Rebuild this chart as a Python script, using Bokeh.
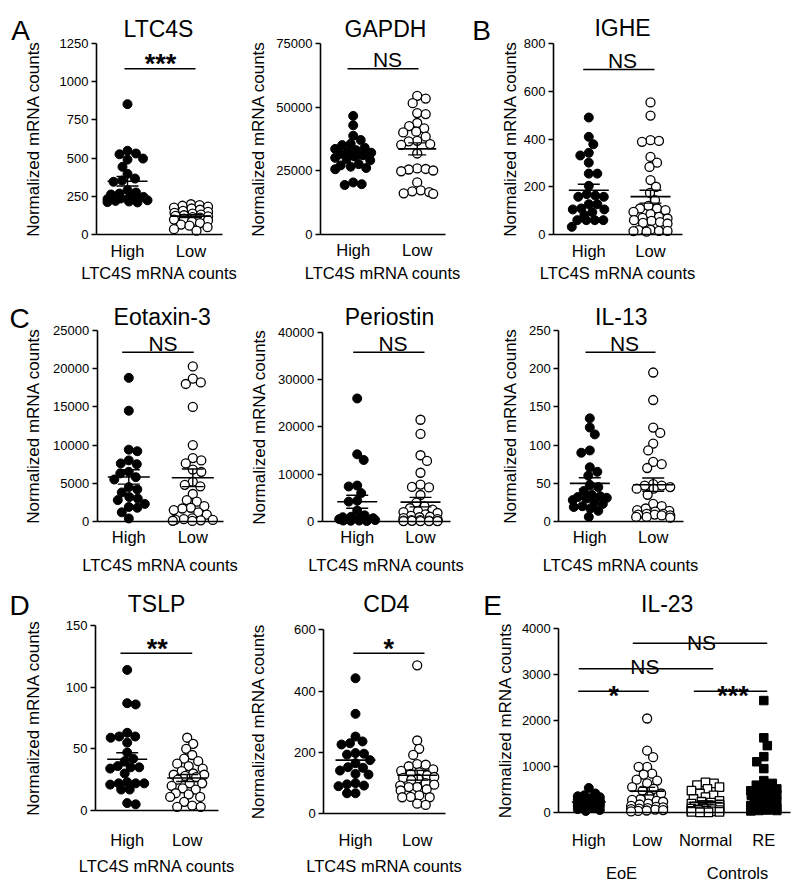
import numpy as np
from bokeh.plotting import figure
from bokeh.layouts import row, column
from bokeh.models import Range1d, FixedTicker, Label, BasicTickFormatter
from bokeh.embed import file_html
from bokeh.resources import INLINE

FONT = "Liberation Sans"

# ---------------- data ----------------
cats_two = ["High", "Low"]
cats_il23 = ["High", "Low", "Normal", "RE"]

ltc4s_high = [853, 548, 530, 525, 497, 490, 443, 397, 366, 353, 345, 290, 275, 268, 262,
              246, 240, 236, 232, 228, 224, 220, 216, 212, 210]
ltc4s_low = [198, 192, 188, 182, 176, 170, 162, 155, 148, 142, 136, 130, 126, 122, 118,
             114, 110, 104, 98, 92, 85, 75, 65, 58, 48, 35, 25]

gapdh_high = [46500, 42800, 38700, 37000, 35500, 35000, 34000, 33500, 33000, 32500, 32000,
              31500, 31000, 30500, 30000, 29500, 29000, 27500, 27000, 26500, 26000, 25500,
              20300, 19600, 19300]
gapdh_low = [54400, 53300, 51500, 47600, 47200, 43700, 42500, 41600, 40300, 40000, 38300,
             36700, 36500, 35400, 35100, 31700, 25800, 25600, 25400, 25000, 24700, 20300,
             17200, 16800, 16500, 16000, 15800]

ighe_high = [490, 409, 378, 342, 331, 301, 255, 255, 204, 169, 163, 158, 158, 127, 127,
             109, 105, 105, 94, 81, 60, 60, 60, 60, 32]
ighe_low = [553, 498, 395, 392, 388, 325, 301, 283, 228, 200, 174, 144, 120, 109, 109, 102,
            95, 85, 74, 70, 67, 60, 57, 52, 49, 46, 20, 18, 15, 15, 14, 12]

eotaxin_high = [18800, 14500, 9400, 9200, 8000, 7600, 7500, 6500, 6300, 5800, 5500, 4500,
                4200, 3800, 3200, 3000, 2800, 2300, 1900, 1800, 1200, 400]
eotaxin_low = [20300, 18700, 18200, 18000, 15000, 10000, 8300, 8000, 7600, 6800, 6500, 5200,
               4800, 4600, 3600, 2800, 2600, 2000, 1800, 1700, 1500, 1200, 900, 400, 300,
               250, 200, 150, 100, 80]

periostin_high = [26000, 14200, 13000, 7600, 7400, 6000, 4400, 4200, 2300, 1300, 1000, 900,
                  700, 600, 500, 400, 300, 300, 200, 200, 150, 100]
periostin_low = [21500, 18500, 14000, 12800, 10300, 7800, 7300, 7200, 5600, 4000, 3200, 2800,
                 2500, 2200, 2000, 1800, 1500, 1200, 1000, 900, 700, 500, 300, 300, 200, 200,
                 150, 150, 100, 100, 100, 100]

il13_high = [135, 123, 114, 93, 90, 71, 65, 60, 48, 45, 40, 35, 33, 32, 31, 30, 28, 25, 23,
             20, 19, 17, 14, 6]
il13_low = [195, 159, 123, 116, 102, 93, 78, 75, 70, 49, 47, 47, 45, 43, 43, 35, 23, 20, 17,
            15, 14, 13, 10, 10, 9, 9, 8, 8, 6, 6, 5]

tslp_high = [114, 87, 86, 63, 60, 60, 59, 55, 47, 42, 40, 36, 35, 35, 34, 30, 23, 22, 22, 22,
             21, 17, 17, 6, 5]
tslp_low = [59, 54, 50, 45, 42, 40, 38, 36, 34, 32, 30, 29, 29, 28, 27, 25, 22, 22, 20, 18,
            17, 14, 13, 11, 11, 7, 4, 3, 3]

cd4_high = [442, 326, 252, 236, 230, 226, 198, 196, 193, 175, 165, 152, 150, 141, 130, 128,
            100, 96, 92, 90, 67, 67]
cd4_low = [484, 239, 212, 192, 162, 160, 155, 145, 140, 135, 130, 125, 120, 117, 115, 110,
           100, 95, 92, 87, 87, 80, 76, 60, 55, 54, 54, 33, 29]

il23_high = [540, 420, 380, 360, 340, 320, 300, 290, 270, 260, 250, 240, 230, 220, 200, 190,
             180, 160, 150, 140, 120, 100, 80, 60, 40]
il23_low = [2050, 1350, 1210, 1000, 1000, 850, 830, 720, 700, 640, 560, 520, 480, 420, 360,
            300, 280, 260, 240, 200, 180, 150, 130, 120, 100, 90, 80, 70, 60, 50, 40, 30]
il23_normal = [660, 640, 600, 560, 520, 480, 420, 380, 340, 300, 260, 240, 220, 200, 180,
               160, 150, 140, 120, 100, 90, 80, 70, 60, 50, 40, 30, 30, 20, 20, 10, 10]
il23_re = [2440, 1630, 1460, 1220, 1110, 960, 700, 640, 600, 560, 520, 480, 450, 440, 400,
           380, 360, 320, 280, 240, 200, 160, 130, 110, 90, 70, 60, 50, 50, 40]

ylabel_text = "Normalized mRNA counts"
xlabel_text = "LTC4S mRNA counts"

# ---------------- page geometry (page pixels) ----------------
ROWS = [(0, 290), (290, 580), (580, 880)]
COLS = [(0, 248), (248, 468), (468, 798)]
DIAM = 8.5       # collision diameter for the swarm layout
MSIZE = 9


def swarm_offsets(vals, k, diam, maxw):
    vals = np.asarray(vals, float)
    order = np.argsort(-vals, kind="stable")
    ys = vals * k
    px, py = [], []
    out = np.zeros(len(vals))
    cand = np.arange(-maxw, maxw + 1e-9, 0.5)
    side = 1.0
    for i in order:
        y = ys[i]
        over = np.zeros(len(cand))
        if px:
            ax = np.array(px)
            ay = np.array(py)
            dyv = np.abs(ay - y)
            near = dyv < diam
            if near.any():
                dist = np.sqrt((cand[:, None] - ax[near][None, :]) ** 2 + dyv[near][None, :] ** 2)
                over = np.clip(diam - dist, 0, None).sum(axis=1)
        score = over * 50 + np.abs(cand) - 0.01 * side * np.sign(cand)
        c = cand[int(np.argmin(score))]
        if c != 0:
            side = -np.sign(c)
        out[i] = c
        px.append(c)
        py.append(y)
    return out


def build(cfg):
    c0, c1 = COLS[cfg["col"]]
    r0, r1 = ROWS[cfg["row"]]
    W, H = c1 - c0, r1 - r0
    ax_px = cfg["axis_x"]
    yz = cfg["y_zero"]
    k = (yz - cfg["y_top"]) / cfg["top"]
    cen = cfg["centers"]
    u = (cen[-1] - cen[0]) / (len(cen) - 1)
    xa0 = 0.5 - (cen[0] - ax_px) / u

    def dx(px):
        return xa0 + (px - ax_px) / u

    def dy(py):
        return (yz - py) / k

    p = figure(width=W, height=H, x_range=Range1d(dx(c0), dx(c1)), y_range=Range1d(dy(r1), dy(r0)),
               output_backend="svg", toolbar_location=None,
               min_border_left=0, min_border_right=0, min_border_top=0, min_border_bottom=0)
    p.title.visible = False
    p.outline_line_color = None
    p.xgrid.visible = False
    p.ygrid.visible = False
    p.background_fill_color = "white"
    p.border_fill_color = "white"

    # points
    for gi, (vals, marker, filled) in enumerate(cfg["series"]):
        offs = swarm_offsets(vals, k, DIAM, cfg["maxw"][gi])
        xs = [gi + 0.5 + o / u for o in offs]
        p.scatter(xs, list(vals), marker=marker, size=MSIZE if marker == "circle" else MSIZE - 0.5,
                  fill_color="black" if filled else "white", line_color="black",
                  line_width=1.0 if filled else 1.3)

    # mean +/- SEM
    mx0, mx1, my, vx, vy0, vy1, cx0, cx1, cy = [], [], [], [], [], [], [], [], []
    hw = cfg["mean_hw"] / u
    cw = cfg["cap_hw"] / u
    for gi, (vals, marker, filled) in enumerate(cfg["series"]):
        v = np.asarray(vals, float)
        m = v.mean()
        s = v.std(ddof=1) / np.sqrt(len(v))
        c = gi + 0.5
        mx0.append(c - hw); mx1.append(c + hw); my.append(m)
        vx.append(c); vy0.append(m - s); vy1.append(m + s)
        cx0 += [c - cw, c - cw]; cx1 += [c + cw, c + cw]; cy += [m - s, m + s]
    p.segment(mx0, my, mx1, my, line_color="black", line_width=1.6)
    p.segment(vx, vy0, vx, vy1, line_color="black", line_width=1.4)
    p.segment(cx0, cy, cx1, cy, line_color="black", line_width=1.4)

    # y axis (fixed inside the full-size frame)
    ya = p.yaxis[0]
    ya.fixed_location = dx(ax_px)
    ya.ticker = FixedTicker(ticks=cfg["ticks"], minor_ticks=[])
    ya.bounds = (0, cfg["top"])
    ya.formatter = BasicTickFormatter(use_scientific=False)
    ya.axis_line_color = "black"
    ya.axis_line_width = 1.6
    ya.major_tick_line_color = "black"
    ya.major_tick_line_width = 1.6
    ya.major_tick_out = 5
    ya.major_tick_in = 0
    ya.minor_tick_line_color = None
    ya.major_label_text_font = FONT
    ya.major_label_text_font_size = "13px"
    ya.major_label_text_color = "black"
    ya.major_label_standoff = 3
    ya.axis_label = ylabel_text
    ya.axis_label_text_font = FONT
    ya.axis_label_text_font_size = "17px"
    ya.axis_label_text_font_style = "normal"
    ya.axis_label_text_color = "black"
    ya.axis_label_standoff = cfg["ylab_standoff"]

    # x axis (category labels) at y = 0
    xa = p.xaxis[0]
    xa.fixed_location = 0
    xa.bounds = (dx(ax_px), dx(cfg["right_x"]))
    ticks = [i + 0.5 for i in range(len(cfg["cats"]))]
    xa.ticker = FixedTicker(ticks=ticks, minor_ticks=[])
    xa.major_label_overrides = {t: c for t, c in zip(ticks, cfg["cats"])}
    xa.axis_line_color = "black"
    xa.axis_line_width = 1.6
    xa.major_tick_line_color = None
    xa.minor_tick_line_color = None
    xa.major_tick_out = 0
    xa.major_tick_in = 0
    xa.major_label_text_font = FONT
    xa.major_label_text_font_size = "16.5px"
    xa.major_label_text_color = "black"
    xa.major_label_standoff = cfg["cat_standoff"]
    if cfg.get("xlabel"):
        xa.axis_label = cfg["xlabel"]
        xa.axis_label_text_font = FONT
        xa.axis_label_text_font_size = "16.5px"
        xa.axis_label_text_font_style = "normal"
        xa.axis_label_text_color = "black"
        xa.axis_label_standoff = cfg["xlab_standoff"]

    def label(text, px, py, size, style="normal"):
        p.add_layout(Label(x=dx(px), y=dy(py), text=text, text_align="center",
                           text_baseline="alphabetic", text_font=FONT,
                           text_font_size=f"{size}px", text_font_style=style,
                           text_color="black"))

    # significance marks
    sx0, sx1, sy = [], [], []
    for (txt, tx, tb, fs, bold, lx0, lx1, ly) in cfg["sig"]:
        label(txt, tx, tb, fs, "bold" if bold else "normal")
        sx0.append(dx(lx0)); sx1.append(dx(lx1)); sy.append(dy(ly))
    p.segment(sx0, sy, sx1, sy, line_color="black", line_width=1.6)

    t, tx, tb = cfg["title"]
    label(t, tx, tb, 23)
    if cfg.get("letter"):
        lt, lx, lb = cfg["letter"]
        label(lt, lx, lb, 28)
    for (txt, tx, tb) in cfg.get("extra", []):
        label(txt, tx, tb, 16.5)
    return p


STAR = 27
NSF = 21
panels = [
    dict(col=0, row=0, axis_x=96, right_x=222, y_zero=234, y_top=43, top=1250,
         ticks=[0, 250, 500, 750, 1000, 1250], cats=cats_two, centers=[127, 190.5],
         series=[(ltc4s_high, "circle", True), (ltc4s_low, "circle", False)],
         title=("LTC4S", 158, 28.3), letter=("A", 20, 30),
         sig=[("***", 160, 63.8, STAR, True, 124, 195, 68.3)],
         ylab_standoff=14, cat_standoff=7, xlabel=xlabel_text, xlab_standoff=1,
         maxw=[20, 17], mean_hw=20, cap_hw=11),
    dict(col=1, row=0, axis_x=320, right_x=445, y_zero=233.5, y_top=43, top=75000,
         ticks=[0, 25000, 50000, 75000], cats=cats_two, centers=[352.7, 416.7],
         series=[(gapdh_high, "circle", True), (gapdh_low, "circle", False)],
         title=("GAPDH", 385, 28.3), letter=None,
         sig=[("NS", 387, 59.3, NSF, False, 347, 418, 68.3)],
         ylab_standoff=5, cat_standoff=7, xlabel=xlabel_text, xlab_standoff=1,
         maxw=[18, 16], mean_hw=19, cap_hw=9),
    dict(col=2, row=0, axis_x=553, right_x=682, y_zero=234, y_top=43, top=800,
         ticks=[0, 200, 400, 600, 800], cats=cats_two, centers=[588.3, 650],
         series=[(ighe_high, "circle", True), (ighe_low, "circle", False)],
         title=("IGHE", 622, 27.5), letter=("B", 481, 30),
         sig=[("NS", 622, 60, NSF, False, 582.7, 654, 69)],
         ylab_standoff=1, cat_standoff=7, xlabel=xlabel_text, xlab_standoff=1,
         maxw=[17, 17], mean_hw=20, cap_hw=11),
    dict(col=0, row=1, axis_x=96.7, right_x=223.3, y_zero=521, y_top=330, top=25000,
         ticks=[0, 5000, 10000, 15000, 20000, 25000], cats=cats_two, centers=[128.3, 192.3],
         series=[(eotaxin_high, "circle", True), (eotaxin_low, "circle", False)],
         title=("Eotaxin-3", 161.7, 316.7), letter=("C", 19, 317.7),
         sig=[("NS", 162.5, 343.3, NSF, False, 121.7, 193.3, 351.7)],
         ylab_standoff=7, cat_standoff=6, xlabel=xlabel_text, xlab_standoff=7,
         maxw=[16, 20], mean_hw=21, cap_hw=11),
    dict(col=1, row=1, axis_x=321.7, right_x=450, y_zero=521, y_top=331.7, top=40000,
         ticks=[0, 10000, 20000, 30000, 40000], cats=cats_two, centers=[356.7, 420],
         series=[(periostin_high, "circle", True), (periostin_low, "circle", False)],
         title=("Periostin", 389, 316), letter=None,
         sig=[("NS", 392.5, 343, NSF, False, 352.7, 424, 351.7)],
         ylab_standoff=6, cat_standoff=6, xlabel=xlabel_text, xlab_standoff=7,
         maxw=[18, 17], mean_hw=20, cap_hw=11),
    dict(col=2, row=1, axis_x=558.3, right_x=683.3, y_zero=521, y_top=330, top=250,
         ticks=[0, 50, 100, 150, 200, 250], cats=cats_two, centers=[589.3, 652.7],
         series=[(il13_high, "circle", True), (il13_low, "circle", False)],
         title=("IL-13", 620.8, 316), letter=None,
         sig=[("NS", 624, 343, NSF, False, 585, 655, 351.7)],
         ylab_standoff=6, cat_standoff=6, xlabel=xlabel_text, xlab_standoff=7,
         maxw=[17, 17], mean_hw=20, cap_hw=11),
    dict(col=0, row=2, axis_x=95, right_x=218.3, y_zero=810, y_top=625, top=150,
         ticks=[0, 50, 100, 150], cats=cats_two, centers=[126.7, 186.7],
         series=[(tslp_high, "circle", True), (tslp_low, "circle", False)],
         title=("TSLP", 156, 603.3), letter=("D", 19, 605),
         sig=[("**", 156.7, 648, STAR, True, 120, 191.7, 652.7)],
         ylab_standoff=20, cat_standoff=20, xlabel=xlabel_text, xlab_standoff=5,
         maxw=[17, 17], mean_hw=20, cap_hw=11),
    dict(col=1, row=2, axis_x=323.3, right_x=445, y_zero=813.3, y_top=629.3, top=600,
         ticks=[0, 200, 400, 600], cats=cats_two, centers=[355, 416.7],
         series=[(cd4_high, "circle", True), (cd4_low, "circle", False)],
         title=("CD4", 385.8, 603.3), letter=None,
         sig=[("*", 388.3, 648.4, STAR, True, 352.7, 424, 652.7)],
         ylab_standoff=23, cat_standoff=17, xlabel=xlabel_text, xlab_standoff=5,
         maxw=[17, 17], mean_hw=20, cap_hw=11),
    dict(col=2, row=2, axis_x=558.3, right_x=790, y_zero=812.3, y_top=628.3, top=4000,
         ticks=[0, 1000, 2000, 3000, 4000], cats=cats_il23, centers=[588.3, 645, 703.3, 763.3],
         series=[(il23_high, "circle", True), (il23_low, "circle", False),
                 (il23_normal, "square", False), (il23_re, "square", True)],
         title=("IL-23", 666.7, 603), letter=("E", 492, 605),
         sig=[("NS", 701, 641.7, NSF, False, 632.3, 766.7, 642.7),
              ("NS", 644.3, 666, NSF, False, 578.3, 712.7, 668.3),
              ("*", 613.3, 695, STAR, True, 577.7, 648.3, 690.7),
              ("***", 732.5, 695, STAR, True, 693.3, 766.7, 690.7)],
         ylab_standoff=4, cat_standoff=18, xlabel=None,
         extra=[("EoE", 621, 872), ("Controls", 737, 872)],
         maxw=[11, 16, 14, 13], mean_hw=17, cap_hw=8),
]

figs = [build(c) for c in panels]
layout = column(row(*figs[0:3]), row(*figs[3:6]), row(*figs[6:9]))

open("out.html", "w").write(file_html(layout, INLINE))
